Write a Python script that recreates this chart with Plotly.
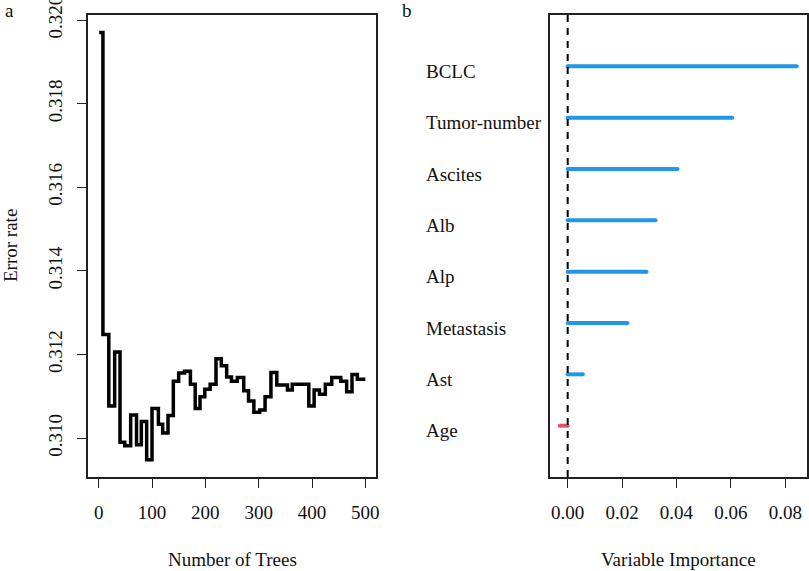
import plotly.graph_objects as go

# panel a: OOB error rate against number of trees (step starts, value)
tree_steps = [1, 8, 19, 30, 40, 49, 60, 71, 80, 90,
              100, 112, 120, 130, 140, 150, 161, 172, 181, 190,
              199, 209, 220, 230, 240, 249, 260, 272, 281, 291,
              302, 312, 323, 334, 354, 363, 394, 404, 414, 425,
              437, 454, 465, 475, 485, 500]
error_rate = [0.3197, 0.31248, 0.31077, 0.31206, 0.3099, 0.30982, 0.31055, 0.30984, 0.3104, 0.30948,
              0.31071, 0.31033, 0.31012, 0.31054, 0.31136, 0.31156, 0.3116, 0.31129, 0.31071, 0.31099,
              0.31117, 0.31129, 0.3119, 0.31173, 0.31146, 0.31136, 0.31145, 0.31113, 0.31089, 0.31062,
              0.31067, 0.31099, 0.31157, 0.31127, 0.31115, 0.31129, 0.31077, 0.31115, 0.31105, 0.31129,
              0.31145, 0.31136, 0.31111, 0.31152, 0.31141, 0.31141]

# panel b: variable importance
variables = ["Age", "Ast", "Metastasis", "Alp", "Alb", "Ascites", "Tumor-number", "BCLC"]
importance = [-0.0029, 0.0056, 0.0220, 0.0290, 0.0323, 0.0404, 0.0605, 0.0842]

x_ticks_a = [0, 100, 200, 300, 400, 500]
y_ticks_a = [0.310, 0.312, 0.314, 0.316, 0.318, 0.320]
x_ticks_b = [0.00, 0.02, 0.04, 0.06, 0.08]

W, H = 809, 571
FONT = "Liberation Serif, Times New Roman, serif"
BLUE = "#2297E6"
RED = "#DF536B"

fig = go.Figure()

fig.add_trace(go.Scatter(x=tree_steps, y=error_rate, mode="lines",
                         line=dict(color="black", width=3.5, shape="hv"),
                         xaxis="x", yaxis="y", showlegend=False))

for i, (name, val) in enumerate(zip(variables, importance)):
    col = BLUE if val >= 0 else RED
    fig.add_trace(go.Scatter(x=[0, val], y=[i + 1, i + 1], mode="lines+markers",
                             line=dict(color=col, width=4),
                             marker=dict(color=col, size=4, line_width=0),
                             xaxis="x2", yaxis="y2", showlegend=False))

# dashed zero line
fig.add_shape(type="line", xref="x2", yref="y2 domain", x0=0, x1=0, y0=0, y1=1,
              line=dict(color="black", width=2, dash="7px,6px"))

axis_common = dict(showline=True, linecolor="#222", linewidth=1.5, mirror=True,
                   ticklen=9, tickcolor="#222", tickwidth=1.3, automargin=False,
                   showgrid=False, zeroline=False, ticklabeloverflow="allow",
                   tickfont=dict(family=FONT, size=19, color="#111"))

ydom = [1 - 477 / H, 1 - 15 / H]

fig.update_layout(
    width=W, height=H,
    margin=dict(l=0, r=0, t=0, b=0),
    paper_bgcolor="white", plot_bgcolor="white",
    font=dict(family=FONT, size=19, color="#111"),
    xaxis=dict(domain=[88 / W, 376 / W], range=[-20, 520], tickvals=x_ticks_a,
               anchor="y", ticks="outside", ticklabelstandoff=8, **axis_common),
    yaxis=dict(domain=ydom, range=[0.30907, 0.32012], tickvals=y_ticks_a,
               tickformat=".3f", tickangle=-90, anchor="x", ticks="outside",
               ticklabelstandoff=8, **axis_common),
    xaxis2=dict(domain=[550 / W, 806.5 / W], range=[-0.0065, 0.0878], tickvals=x_ticks_b,
                tickformat=".2f", anchor="y2", ticks="outside", ticklabelstandoff=8,
                **axis_common),
    yaxis2=dict(domain=ydom, range=[0, 9], anchor="x2", showticklabels=False,
                ticks="", **axis_common),
)

ann = [
    dict(text="Number of Trees", x=(88 + 376) / 2 / W, y=1 - 559 / H),
    dict(text="Variable Importance", x=(550 + 806) / 2 / W, y=1 - 559 / H),
    dict(text="Error rate", x=10 / W, y=1 - 246 / H, textangle=-90),
]
for a in ann:
    fig.add_annotation(xref="paper", yref="paper", showarrow=False,
                       xanchor="center", yanchor="middle",
                       font=dict(family=FONT, size=19, color="#111"), **a)

fig.add_annotation(text="a", xref="paper", yref="paper", x=3 / W, y=1 - 10 / H,
                   xanchor="left", yanchor="middle", showarrow=False,
                   font=dict(family=FONT, size=19, color="#111"))
fig.add_annotation(text="b", xref="paper", yref="paper", x=400 / W, y=1 - 10 / H,
                   xanchor="left", yanchor="middle", showarrow=False,
                   font=dict(family=FONT, size=19, color="#111"))

# variable labels, left aligned
for i, name in enumerate(variables):
    fig.add_annotation(text=name, xref="paper", yref="y2", x=424 / W, y=i + 1,
                       xanchor="left", yanchor="middle", yshift=-5, showarrow=False,
                       font=dict(family=FONT, size=19, color="#111"))

# drop the default page margin so the figure sits at the window corner
fig.write_html("out.html", config={"displayModeBar": False},
               post_script="document.body.style.margin='0';document.body.style.overflow='hidden';")
